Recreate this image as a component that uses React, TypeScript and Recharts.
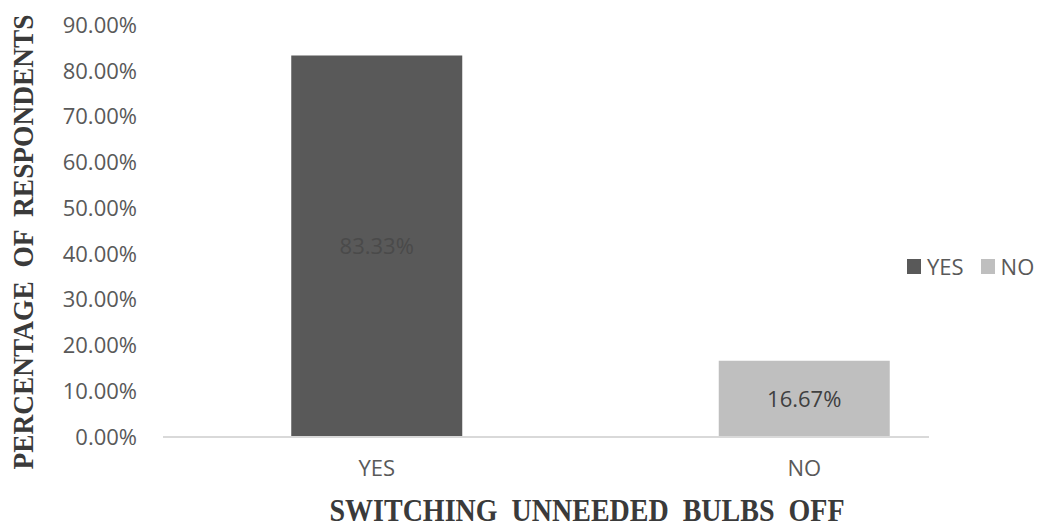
import React from 'react'
import { BarChart, Bar, XAxis, YAxis, Legend, LabelList, Cell } from 'recharts'

// values
const categories = ['YES', 'NO']
const shares = [0.8333, 0.1667]
const barColors = ['#595959', '#bfbfbf']
const labelColors = ['#4a4a4a', '#404040']
const yTicks = [0, 0.1, 0.2, 0.3, 0.4, 0.5, 0.6, 0.7, 0.8, 0.9]

const data = categories.map((name, i) => ({ name, value: shares[i] }))

const pct = (v: number) => `${(v * 100).toFixed(2)}%`
const SANS = '"Open Sans", sans-serif'
const SERIF = '"Liberation Serif", "Times New Roman", serif'

function LegendBox() {
  return (
    <div style={{ display: 'flex', alignItems: 'center', fontFamily: SANS, fontSize: 22, color: '#595959' }}>
      {categories.map((c, i) => (
        <span key={c} style={{ display: 'flex', alignItems: 'center', marginRight: 17 }}>
          <span style={{ width: 14, height: 15, background: barColors[i], marginRight: 6, display: 'inline-block' }} />
          {c}
        </span>
      ))}
    </div>
  )
}

export default function App() {
  return (
    <div style={{ position: 'absolute', left: 0, top: 0 }}>
      <BarChart width={1040} height={529} data={data} margin={{ top: 25, right: 111, left: 0, bottom: 0 }} barCategoryGap="30%">
        <XAxis
          dataKey="name"
          height={92}
          padding={{ left: 0, right: -89 }}
          tick={{ fill: '#595959', fontSize: 22, fontFamily: SANS }}
          tickLine={false}
          tickSize={0}
          tickMargin={23}
          axisLine={{ stroke: '#d9d9d9', strokeWidth: 2 }}
          label={{
            content: (p: any) => {
              const vb = p.viewBox
              return (
                <text
                  x={vb.x + vb.width / 2 + 41}
                  y={vb.y + 84}
                  textAnchor="middle"
                  fontFamily={SERIF}
                  fontWeight="bold"
                  fontSize={31}
                  fill="#3a3a3a"
                  textLength={515}
                  lengthAdjust="spacingAndGlyphs"
                  xmlSpace="preserve"
                  style={{ whiteSpace: 'pre' }}
                >
                  {'SWITCHING  UNNEEDED  BULBS  OFF'}
                </text>
              )
            },
          }}
        />
        <YAxis
          width={163}
          domain={[0, 0.9]}
          ticks={yTicks}
          tickFormatter={pct}
          tick={{ fill: '#595959', fontSize: 22, fontFamily: SANS }}
          tickLine={false}
          tickSize={0}
          tickMargin={26}
          axisLine={false}
          label={{
            content: (p: any) => {
              const vb = p.viewBox
              const cx = vb.x + 33
              const cy = vb.y + vb.height / 2 + 11
              return (
                <text
                  x={0}
                  y={0}
                  transform={`translate(${cx}, ${cy}) rotate(-90) scale(1, 1.12)`}
                  textAnchor="middle"
                  fontFamily={SERIF}
                  fontWeight="bold"
                  fontSize={27}
                  fill="#3a3a3a"
                  textLength={455}
                  lengthAdjust="spacingAndGlyphs"
                  xmlSpace="preserve"
                  style={{ whiteSpace: 'pre' }}
                >
                  {'PERCENTAGE  OF  RESPONDENTS'}
                </text>
              )
            },
          }}
        />
        <Legend
          layout="horizontal"
          align="center"
          verticalAlign="middle"
          wrapperStyle={{ left: 907, top: 251, width: 'auto' }}
          content={() => <LegendBox />}
        />
        <Bar dataKey="value" isAnimationActive={false}>
          {data.map((d, i) => (
            <Cell key={d.name} fill={barColors[i]} />
          ))}
          <LabelList
            dataKey="value"
            position="center"
            content={(p: any) => (
              <text
                x={p.x + p.width / 2}
                y={p.y + p.height / 2}
                dy="0.355em"
                textAnchor="middle"
                fontFamily={SANS}
                fontSize={22}
                fill={labelColors[p.index]}
              >
                {pct(Number(p.value))}
              </text>
            )}
          />
        </Bar>
      </BarChart>
    </div>
  )
}
